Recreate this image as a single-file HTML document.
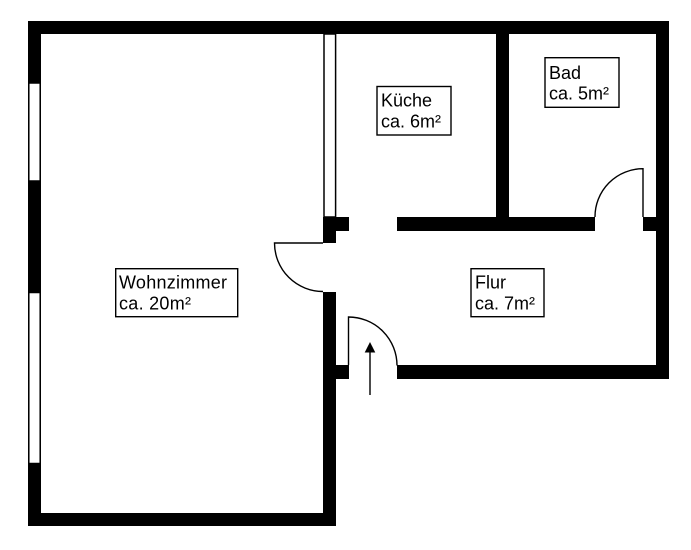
<!DOCTYPE html>
<html>
<head>
<meta charset="utf-8">
<style>
html,body{margin:0;padding:0;background:#fff;width:691px;height:550px;overflow:hidden}
svg{display:block}
text{font-family:"Liberation Sans",Arial,sans-serif;font-size:18px;fill:#000}
</style>
</head>
<body>
<svg width="691" height="550" viewBox="0 0 691 550" xmlns="http://www.w3.org/2000/svg">
<rect width="691" height="550" fill="#fff"/>
<g fill="#000">
<rect x="28" y="21" width="641" height="13"/>
<rect x="28" y="21" width="13" height="505"/>
<rect x="28" y="513" width="308" height="13"/>
<rect x="656" y="21" width="13" height="358"/>
<rect x="323" y="292" width="13" height="234"/>
<rect x="323" y="217" width="13" height="26"/>
<rect x="323" y="217" width="26" height="14"/>
<rect x="336" y="365" width="13" height="14"/>
<rect x="397" y="365" width="272" height="14"/>
<rect x="397" y="217" width="198" height="14"/>
<rect x="643" y="217" width="26" height="14"/>
<rect x="496" y="21" width="13" height="210"/>
</g>
<!-- windows -->
<rect x="28.8" y="83" width="11.4" height="98" fill="#fff" stroke="#000" stroke-width="1.5"/>
<rect x="28.8" y="292.5" width="11.4" height="171" fill="#fff" stroke="#000" stroke-width="1.5"/>
<!-- kitchen opening -->
<rect x="324" y="34" width="11.6" height="183" fill="#fff" stroke="#000" stroke-width="1.5"/>
<!-- doors -->
<g fill="none" stroke="#000" stroke-width="1.4">
<path d="M323 243H274.5A48.5 48.5 0 0 0 323 291.5"/>
<path d="M348.5 365V317A48.5 48.5 0 0 1 397 365.5"/>
<path d="M643 217V168.7A48 48 0 0 0 595 217"/>
</g>
<!-- arrow -->
<line x1="370" y1="395" x2="370" y2="350" stroke="#000" stroke-width="1.4"/>
<polygon points="370,342 375.3,352.5 364.7,352.5" fill="#000"/>
<!-- labels -->
<g fill="#fff" stroke="#000" stroke-width="1.4">
<rect x="115.7" y="268.7" width="122" height="48"/>
<rect x="377" y="86.5" width="74" height="48.5"/>
<rect x="545" y="57.7" width="74" height="49.6"/>
<rect x="471" y="268.7" width="73" height="48"/>
</g>
<text x="119" y="288.5" textLength="108" lengthAdjust="spacing">Wohnzimmer</text>
<text x="119" y="309.5" textLength="72" lengthAdjust="spacing">ca. 20m²</text>
<text x="381" y="106.5" textLength="51" lengthAdjust="spacing">Küche</text>
<text x="381" y="127.5" textLength="60" lengthAdjust="spacing">ca. 6m²</text>
<text x="549" y="79" textLength="32" lengthAdjust="spacing">Bad</text>
<text x="549" y="99.5" textLength="60" lengthAdjust="spacing">ca. 5m²</text>
<text x="475" y="288.5" textLength="31" lengthAdjust="spacing">Flur</text>
<text x="475" y="309.5" textLength="60" lengthAdjust="spacing">ca. 7m²</text>
</svg>
</body>
</html>
